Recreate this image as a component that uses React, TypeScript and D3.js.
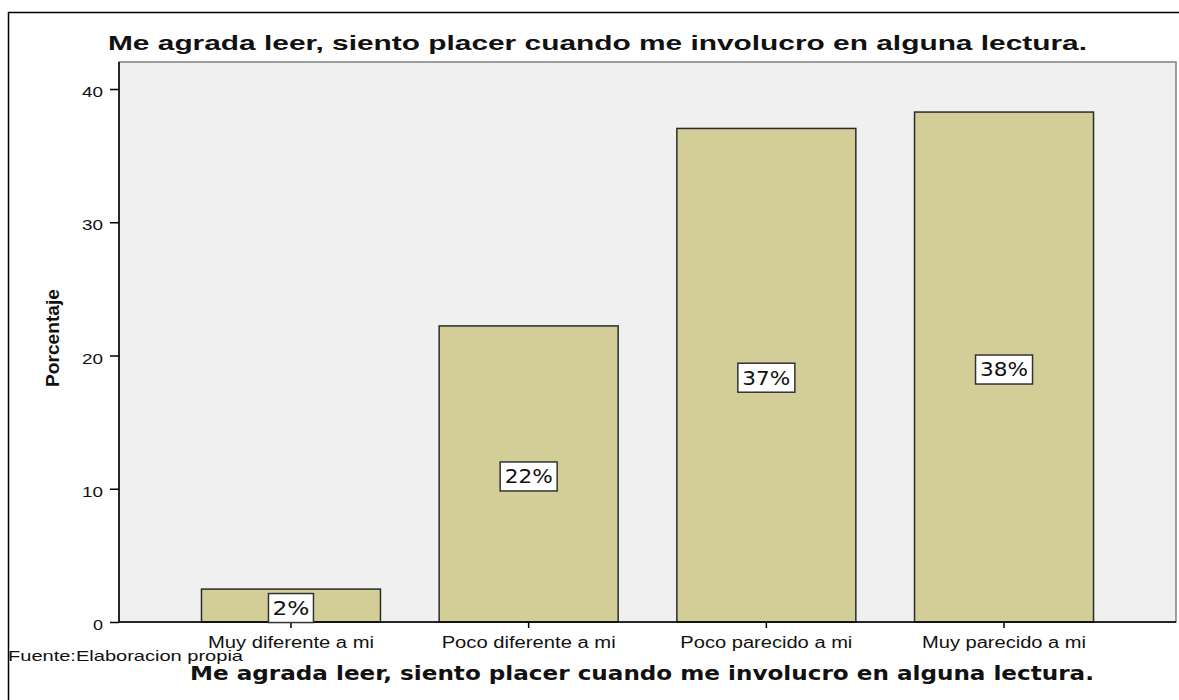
import React, { useRef, useEffect } from 'react';
import * as d3 from 'd3';

const categories = ['Muy diferente a mi', 'Poco diferente a mi', 'Poco parecido a mi', 'Muy parecido a mi'];
const percentages = [2.47, 22.22, 37.04, 38.27];
const labels = ['2%', '22%', '37%', '38%'];
const yTicks = [0, 10, 20, 30, 40];
const title = 'Me agrada leer, siento placer cuando me involucro en alguna lectura.';

const App = () => {
    const ref = useRef<SVGSVGElement>(null);

    useEffect(() => {
        const svg = d3.select(ref.current)
            .attr('width', 1179)
            .attr('height', 700);

        svg.selectAll('*').remove();

        const plot = { left: 119, right: 1176, top: 62, bottom: 622 };
        const sans = 'Liberation Sans, Arial, sans-serif';
        const wide = 'DejaVu Sans, Verdana, sans-serif';

        // outer frame
        svg.append('rect')
            .attr('x', 8.5).attr('y', 12.5)
            .attr('width', 1200).attr('height', 800)
            .attr('fill', '#fff')
            .attr('stroke', '#000')
            .attr('stroke-width', 1.5);

        const x = d3.scaleBand()
            .domain(categories)
            .range([plot.left, plot.right])
            .paddingInner(0.247)
            .paddingOuter(0.347);

        const y = d3.scaleLinear()
            .domain([0, 40])
            .range([plot.bottom, 89]);

        // plot background
        svg.append('rect')
            .attr('x', plot.left).attr('y', plot.top)
            .attr('width', plot.right - plot.left)
            .attr('height', plot.bottom - plot.top)
            .attr('fill', '#f0f0f0')
            .attr('stroke', '#808080')
            .attr('stroke-width', 1.5);

        // bars
        svg.selectAll('.bar')
            .data(percentages)
            .enter().append('rect')
            .attr('class', 'bar')
            .attr('x', (d, i) => x(categories[i]))
            .attr('y', d => y(d))
            .attr('width', x.bandwidth())
            .attr('height', d => plot.bottom - y(d))
            .attr('fill', '#d3ce98')
            .attr('stroke', '#2b2b2b')
            .attr('stroke-width', 1.5);

        // y axis
        const yAxis = svg.append('g')
            .attr('transform', `translate(${plot.left},0)`)
            .call(d3.axisLeft(y).tickValues(yTicks).tickSize(9).tickFormat(() => ''));
        yAxis.select('.domain').remove();
        yAxis.selectAll('line').attr('stroke', '#000').attr('stroke-width', 1.5);
        svg.selectAll('.ytl')
            .data(yTicks)
            .enter().append('text')
            .attr('class', 'ytl')
            .attr('x', 103)
            .attr('y', d => y(d) + 8)
            .attr('text-anchor', 'end')
            .attr('font-family', sans)
            .attr('font-size', 15)
            .attr('fill', '#111')
            .attr('textLength', d => (d === 0 ? 10 : 21))
            .attr('lengthAdjust', 'spacingAndGlyphs')
            .text(d => d);
        svg.append('line')
            .attr('x1', plot.left).attr('x2', plot.left)
            .attr('y1', plot.top).attr('y2', plot.bottom)
            .attr('stroke', '#000').attr('stroke-width', 1.5);

        // x axis
        const xAxis = svg.append('g')
            .attr('transform', `translate(0,${plot.bottom})`)
            .call(d3.axisBottom(x).tickSize(6).tickFormat(() => ''));
        xAxis.select('.domain').remove();
        xAxis.selectAll('line').attr('stroke', '#000').attr('stroke-width', 1.5);
        const xLabelWidths = [166, 174, 172, 164];
        svg.selectAll('.xtl')
            .data(categories)
            .enter().append('text')
            .attr('class', 'xtl')
            .attr('x', d => x(d) + x.bandwidth() / 2)
            .attr('y', 648)
            .attr('text-anchor', 'middle')
            .attr('font-family', sans)
            .attr('font-size', 16)
            .attr('fill', '#111')
            .attr('textLength', (d, i) => xLabelWidths[i])
            .attr('lengthAdjust', 'spacingAndGlyphs')
            .text(d => d);
        svg.append('line')
            .attr('x1', plot.left).attr('x2', plot.right)
            .attr('y1', plot.bottom).attr('y2', plot.bottom)
            .attr('stroke', '#000').attr('stroke-width', 1.5);

        // value labels
        const lab = svg.selectAll('.lab')
            .data(percentages)
            .enter().append('g')
            .attr('class', 'lab')
            .attr('transform', (d, i) => {
                const cx = x(categories[i]) + x.bandwidth() / 2;
                const cy = (y(d) + plot.bottom) / 2 + 2.5;
                return `translate(${cx},${cy})`;
            });
        lab.append('rect')
            .attr('x', (d, i) => (i === 0 ? -22.5 : -28.5))
            .attr('y', -14.5)
            .attr('width', (d, i) => (i === 0 ? 45 : 57))
            .attr('height', 29)
            .attr('fill', '#fff')
            .attr('stroke', '#333')
            .attr('stroke-width', 1.5);
        lab.append('text')
            .attr('text-anchor', 'middle')
            .attr('dy', '0.36em')
            .attr('font-family', wide)
            .attr('font-size', 19)
            .attr('fill', '#111')
            .attr('textLength', (d, i) => (i === 0 ? 37 : 48))
            .attr('lengthAdjust', 'spacingAndGlyphs')
            .text((d, i) => labels[i]);

        // titles
        svg.append('text')
            .attr('x', 597.5).attr('y', 50)
            .attr('text-anchor', 'middle')
            .attr('font-family', sans)
            .attr('font-weight', 'bold')
            .attr('font-size', 21)
            .attr('fill', '#111')
            .attr('textLength', 979)
            .attr('lengthAdjust', 'spacingAndGlyphs')
            .text(title);

        svg.append('text')
            .attr('x', 642).attr('y', 680)
            .attr('text-anchor', 'middle')
            .attr('font-family', wide)
            .attr('font-weight', 'bold')
            .attr('font-size', 19)
            .attr('fill', '#111')
            .attr('textLength', 904)
            .attr('lengthAdjust', 'spacingAndGlyphs')
            .text(title);

        svg.append('text')
            .attr('transform', 'translate(59,338) rotate(-90)')
            .attr('text-anchor', 'middle')
            .attr('font-family', 'Liberation Sans Narrow, Liberation Sans, Arial, sans-serif')
            .attr('font-stretch', 'condensed')
            .attr('font-weight', 'bold')
            .attr('font-size', 19)
            .attr('fill', '#111')
            .attr('textLength', 98)
            .attr('lengthAdjust', 'spacingAndGlyphs')
            .text('Porcentaje');

        svg.append('text')
            .attr('x', 8).attr('y', 661)
            .attr('font-family', sans)
            .attr('font-size', 15)
            .attr('fill', '#111')
            .attr('textLength', 235)
            .attr('lengthAdjust', 'spacingAndGlyphs')
            .text('Fuente:Elaboracion propia');
    }, []);

    return (
        <svg ref={ref} style={{ position: 'absolute', left: 0, top: 0 }}></svg>
    );
};

export default App;
